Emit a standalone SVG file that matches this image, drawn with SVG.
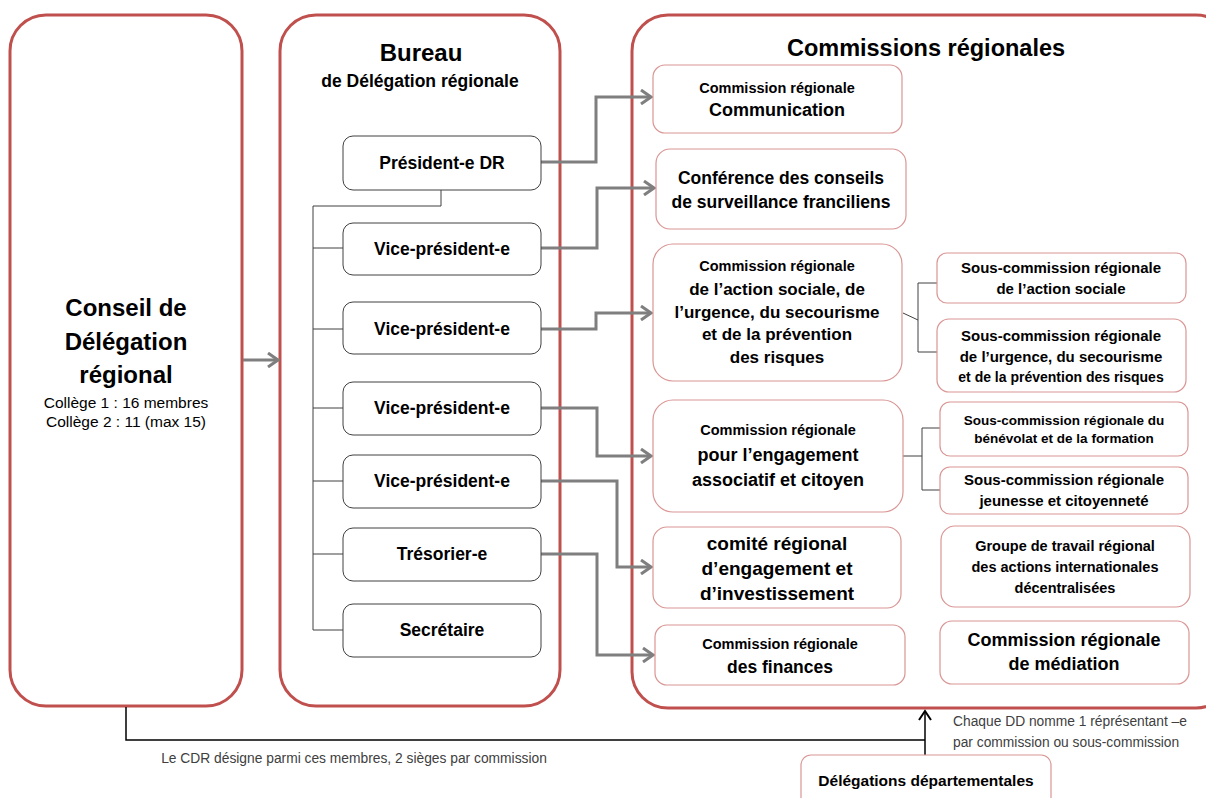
<svg xmlns="http://www.w3.org/2000/svg" width="1206" height="798" viewBox="0 0 1206 798">
<style>
text{font-family:"Liberation Sans",Arial,sans-serif;fill:#000;text-anchor:middle}
.b{font-weight:bold}
.outer{fill:#fff;stroke:#c0504d;stroke-width:3}
.node{fill:#fff;stroke:#404040;stroke-width:1}
.com{fill:#fff;stroke:#d99694;stroke-width:1.2}
.gray{fill:none;stroke:#7f7f7f;stroke-width:3}
.thin{fill:none;stroke:#404040;stroke-width:1}
.note{font-size:13.8px;fill:#404040}
</style>
<defs>
<marker id="ag" markerUnits="userSpaceOnUse" markerWidth="14" markerHeight="16" refX="12" refY="8" orient="auto">
<path d="M2,1 L12,8 L2,15" fill="none" stroke="#7f7f7f" stroke-width="3"/>
</marker>
<marker id="ak" markerUnits="userSpaceOnUse" markerWidth="14" markerHeight="16" refX="12" refY="8" orient="auto">
<path d="M3,2 L12,8 L3,14" fill="none" stroke="#000" stroke-width="2"/>
</marker>
</defs>

<g id="conseil">
<rect class="outer" x="10" y="15" width="232" height="691" rx="36"/>
<text class="b" x="126" y="316" font-size="24">Conseil de</text>
<text class="b" x="126" y="350" font-size="24">Délégation</text>
<text class="b" x="126" y="383" font-size="24">régional</text>
<text x="126" y="408" font-size="15.5" fill="#404040">Collège 1 : 16 membres</text>
<text x="126" y="427" font-size="15.5" fill="#404040">Collège 2 : 11 (max 15)</text>
</g>

<g id="bureau">
<rect class="outer" x="280" y="15" width="280" height="691" rx="36"/>
<text class="b" x="421" y="61" font-size="24">Bureau</text>
<text class="b" x="420" y="87" font-size="17.5">de Délégation régionale</text>
</g>

<g id="commissions">
<rect class="outer" x="632" y="15" width="600" height="693" rx="36"/>
<text class="b" x="926" y="56" font-size="23.5">Commissions régionales</text>
</g>

<g id="connectors">
<path class="thin" d="M441,190 V206 H313 V630 M313,248 H343 M313,329 H343 M313,408 H343 M313,481 H343 M313,554 H343 M313,630 H343"/>
<path class="thin" d="M903,313 L918,320 M937,283 H918 V352 H937"/>
<path class="thin" d="M903,456 H922 M940,428 H922 V490 H940"/>
<path class="gray" d="M243,360 H278" marker-end="url(#ag)"/>
<path class="gray" d="M541,162 H596 V97 H651" marker-end="url(#ag)"/>
<path class="gray" d="M541,248 H597 V188 H654" marker-end="url(#ag)"/>
<path class="gray" d="M541,329 H596 V313 H651" marker-end="url(#ag)"/>
<path class="gray" d="M541,408 H597 V456 H651" marker-end="url(#ag)"/>
<path class="gray" d="M541,481 H617 V567 H651" marker-end="url(#ag)"/>
<path class="gray" d="M541,554 H597 V655 H653" marker-end="url(#ag)"/>
<path fill="none" stroke="#000" stroke-width="1.5" d="M126,707 V740 H925"/>
<path fill="none" stroke="#000" stroke-width="1.5" d="M925,755 V711" marker-end="url(#ak)"/>
</g>

<g id="president"><rect class="node" x="343" y="136" width="198" height="54" rx="10"/><text class="b" x="442" y="169" font-size="17.5">Président-e DR</text></g>
<g id="vp1"><rect class="node" x="343" y="223" width="198" height="52" rx="10"/><text class="b" x="442" y="255" font-size="17.5">Vice-président-e</text></g>
<g id="vp2"><rect class="node" x="343" y="302" width="198" height="52" rx="10"/><text class="b" x="442" y="335" font-size="17.5">Vice-président-e</text></g>
<g id="vp3"><rect class="node" x="343" y="382" width="198" height="53" rx="10"/><text class="b" x="442" y="414" font-size="17.5">Vice-président-e</text></g>
<g id="vp4"><rect class="node" x="343" y="455" width="198" height="53" rx="10"/><text class="b" x="442" y="487" font-size="17.5">Vice-président-e</text></g>
<g id="tresorier"><rect class="node" x="343" y="528" width="198" height="53" rx="10"/><text class="b" x="442" y="560" font-size="17.5">Trésorier-e</text></g>
<g id="secretaire"><rect class="node" x="343" y="604" width="198" height="53" rx="10"/><text class="b" x="442" y="636" font-size="17.5">Secrétaire</text></g>

<g id="c1"><rect class="com" x="653" y="65" width="249" height="68" rx="12"/>
<text class="b" x="777" y="93" font-size="14.5">Commission régionale</text>
<text class="b" x="777" y="116" font-size="18">Communication</text></g>
<g id="c2"><rect class="com" x="656" y="149" width="250" height="80" rx="14"/>
<text class="b" x="781" y="184" font-size="17.5">Conférence des conseils</text>
<text class="b" x="781" y="208" font-size="17.5">de surveillance franciliens</text></g>
<g id="c3"><rect class="com" x="653" y="244" width="249" height="137" rx="20"/>
<text class="b" x="777" y="271" font-size="14.5">Commission régionale</text>
<text class="b" x="777" y="295" font-size="17">de l’action sociale, de</text>
<text class="b" x="777" y="318" font-size="17">l’urgence, du secourisme</text>
<text class="b" x="777" y="340" font-size="17">et de la prévention</text>
<text class="b" x="777" y="363" font-size="17">des risques</text></g>
<g id="c4"><rect class="com" x="653" y="400" width="250" height="112" rx="20"/>
<text class="b" x="778" y="435" font-size="14.5">Commission régionale</text>
<text class="b" x="778" y="461" font-size="18">pour l’engagement</text>
<text class="b" x="778" y="486" font-size="18">associatif et citoyen</text></g>
<g id="c5"><rect class="com" x="653" y="527" width="248" height="81" rx="14"/>
<text class="b" x="777" y="550" font-size="19">comité régional</text>
<text class="b" x="777" y="575" font-size="19">d’engagement et</text>
<text class="b" x="777" y="600" font-size="19">d’investissement</text></g>
<g id="c6"><rect class="com" x="655" y="625" width="250" height="60" rx="12"/>
<text class="b" x="780" y="649" font-size="14.5">Commission régionale</text>
<text class="b" x="780" y="673" font-size="17.5">des finances</text></g>

<g id="s1"><rect class="com" x="937" y="253" width="249" height="50" rx="10"/>
<text class="b" x="1061" y="273" font-size="15">Sous-commission régionale</text>
<text class="b" x="1061" y="294" font-size="15">de l’action sociale</text></g>
<g id="s2"><rect class="com" x="937" y="319" width="249" height="73" rx="12"/>
<text class="b" x="1061" y="341" font-size="15">Sous-commission régionale</text>
<text class="b" x="1061" y="362" font-size="15">de l’urgence, du secourisme</text>
<text class="b" x="1061" y="382" font-size="14">et de la prévention des risques</text></g>
<g id="s3"><rect class="com" x="940" y="402" width="248" height="54" rx="10"/>
<text class="b" x="1064" y="425" font-size="13.5">Sous-commission régionale du</text>
<text class="b" x="1064" y="443" font-size="13.5">bénévolat et de la formation</text></g>
<g id="s4"><rect class="com" x="940" y="467" width="248" height="47" rx="10"/>
<text class="b" x="1064" y="485" font-size="15">Sous-commission régionale</text>
<text class="b" x="1064" y="506" font-size="15">jeunesse et citoyenneté</text></g>
<g id="groupe"><rect class="com" x="941" y="526" width="249" height="81" rx="14"/>
<text class="b" x="1065" y="551" font-size="14.5">Groupe de travail régional</text>
<text class="b" x="1065" y="572" font-size="14.5">des actions internationales</text>
<text class="b" x="1065" y="593" font-size="14.5">décentralisées</text></g>
<g id="mediation"><rect class="com" x="940" y="621" width="249" height="63" rx="12"/>
<text class="b" x="1064" y="646" font-size="18">Commission régionale</text>
<text class="b" x="1064" y="670" font-size="18">de médiation</text></g>

<g id="dd"><rect class="com" x="801" y="755" width="250" height="60" rx="10"/>
<text class="b" x="926" y="786" font-size="15.5">Délégations départementales</text></g>

<text class="note" x="354" y="763">Le CDR désigne parmi ces membres, 2 sièges par commission</text>
<text class="note" x="953" y="726" style="text-anchor:start">Chaque DD nomme 1 réprésentant –e</text>
<text class="note" x="953" y="747" style="text-anchor:start">par commission ou sous-commission</text>
</svg>
